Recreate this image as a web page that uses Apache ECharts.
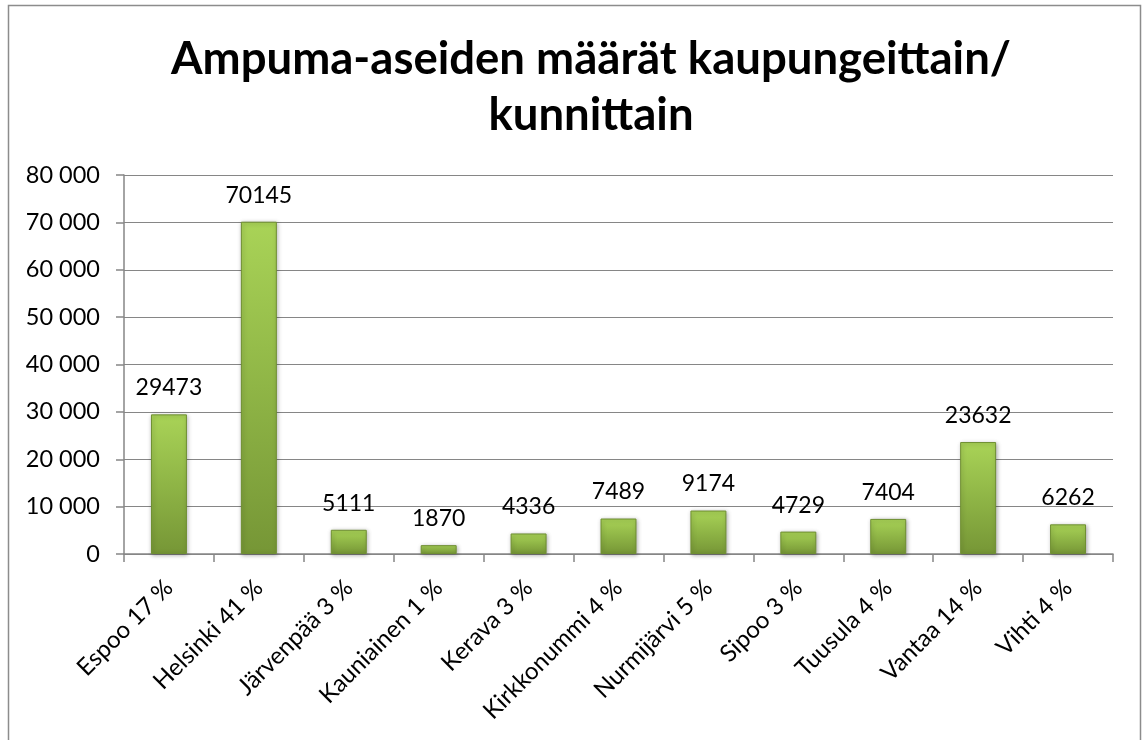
<!DOCTYPE html>
<html>
<head>
<meta charset="utf-8">
<script src="https://cdn.jsdelivr.net/npm/echarts@6/dist/echarts.min.js"></script>
<style>
html,body{margin:0;padding:0;background:#fff;}
#c{width:1142px;height:740px;}
</style>
</head>
<body>
<div id="c"></div>
<script>
const titleText = 'Ampuma-aseiden määrät kaupungeittain/\nkunnittain';
const categories = ['Espoo 17 %','Helsinki 41 %','Järvenpää 3 %','Kauniainen 1 %','Kerava 3 %','Kirkkonummi 4 %','Nurmijärvi 5 %','Sipoo 3 %','Tuusula 4 %','Vantaa 14 %','Vihti 4 %'];
const values = [29473,70145,5111,1870,4336,7489,9174,4729,7404,23632,6262];
const yMin = 0, yMax = 80000, yStep = 10000;

const FONT = 'Lato, Carlito, "Open Sans", sans-serif';
const chart = echarts.init(document.getElementById('c'));
chart.setOption({
  animation: false,
  backgroundColor: '#fff',
  title: {
    text: titleText,
    left: 586,
    textAlign: 'center',
    top: 26,
    textStyle: {fontFamily: FONT, fontWeight: 'bold', fontSize: 45.5, lineHeight: 56, color: '#000'}
  },
  graphic: [{
    type: 'rect',
    shape: {x: 8.5, y: 5.5, width: 1132, height: 745},
    style: {fill: 'none', stroke: '#8c8c8c', lineWidth: 1.5},
    silent: true
  }],
  grid: {left: 124, right: 29, top: 175, bottom: 186},
  xAxis: {
    type: 'category',
    data: categories,
    axisLine: {lineStyle: {color: '#868686', width: 1.5}},
    axisTick: {show: true, length: 8, lineStyle: {color: '#868686', width: 1.5}},
    axisLabel: {rotate: 45, margin: 30, color: '#000', fontFamily: FONT, fontSize: 24}
  },
  yAxis: {
    type: 'value',
    min: yMin, max: yMax, interval: yStep,
    axisLine: {show: true, lineStyle: {color: '#868686', width: 1.5}},
    axisTick: {show: true, length: 8, lineStyle: {color: '#868686', width: 1.5}},
    splitLine: {lineStyle: {color: '#868686', width: 1.2}},
    axisLabel: {
      margin: 24, color: '#000', fontFamily: FONT, fontSize: 23.5,
      formatter: v => String(v).replace(/\B(?=(\d{3})+(?!\d))/g, ' ')
    }
  },
  series: [{
    type: 'bar',
    data: values,
    barWidth: '40%',
    itemStyle: {
      color: new echarts.graphic.LinearGradient(0, 0, 0, 1, [
        {offset: 0, color: '#a9d357'},
        {offset: 0.5, color: '#8fb546'},
        {offset: 1, color: '#769636'}
      ]),
      borderColor: '#6f8f32',
      borderWidth: 1,
      shadowColor: 'rgba(0,0,0,0.3)',
      shadowBlur: 4,
      shadowOffsetX: 1,
      shadowOffsetY: 1
    },
    label: {
      show: true, position: 'top', distance: 15,
      color: '#000', fontFamily: FONT, fontSize: 23
    }
  }]
});
</script>
</body>
</html>
